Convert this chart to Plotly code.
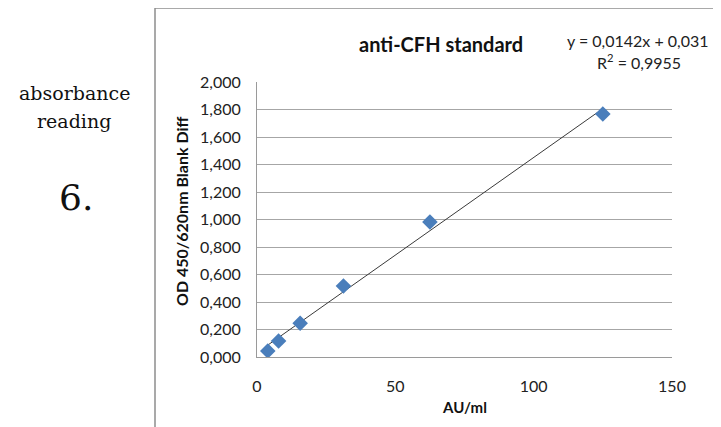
import plotly.graph_objects as go

# Data
au_ml = [3.9, 7.8, 15.6, 31.25, 62.5, 125]
od_diff = [0.044, 0.116, 0.245, 0.516, 0.982, 1.767]
slope = 0.0142
intercept = 0.031
y_tickvals = [0, 0.2, 0.4, 0.6, 0.8, 1.0, 1.2, 1.4, 1.6, 1.8, 2.0]
y_ticktext = ["0,000", "0,200", "0,400", "0,600", "0,800", "1,000",
              "1,200", "1,400", "1,600", "1,800", "2,000"]
x_tickvals = [0, 50, 100, 150]

W, H = 721, 427
OFF = 8  # browser body margin
L, R, T, B = 257, 672, 82, 357  # plot area in screen pixels
pw, ph = R - L, B - T

def px(x):
    return (x - L) / pw

def py(y):
    return (B - y) / ph

font_fam = "Lato, 'Open Sans', sans-serif"

fig = go.Figure()
fit_x = [min(au_ml), max(au_ml)]
fit_y = [slope * v + intercept for v in fit_x]
fig.add_trace(go.Scatter(x=fit_x, y=fit_y, mode="lines",
                         line=dict(color="#3a3a3a", width=1), showlegend=False,
                         hoverinfo="skip"))
fig.add_trace(go.Scatter(x=au_ml, y=od_diff, mode="markers",
                         marker=dict(symbol="diamond", size=12, color="#4a7ebb",
                                     line=dict(width=0)),
                         showlegend=False))

fig.update_layout(
    width=W, height=H,
    margin=dict(l=L - OFF, r=W - (R - OFF), t=T - OFF, b=H - (B - OFF), pad=0),
    paper_bgcolor="white", plot_bgcolor="white",
    font=dict(family=font_fam, size=16, color="#222"),
    xaxis=dict(range=[0, 150], tickvals=x_tickvals, showgrid=False, zeroline=False,
               showline=True, linecolor="#9a9a9a", linewidth=1,
               ticks="outside", ticklen=15, tickcolor="rgba(0,0,0,0)",
               tickfont=dict(size=16, family=font_fam, color="#222")),
    yaxis=dict(range=[0, 2.0], tickvals=y_tickvals, ticktext=y_ticktext,
               showgrid=True, gridcolor="#a6a6a6", gridwidth=1, zeroline=False,
               showline=True, linecolor="#9a9a9a", linewidth=1,
               ticks="outside", ticklen=12, tickcolor="rgba(0,0,0,0)",
               tickfont=dict(size=16, family=font_fam, color="#222")),
    showlegend=False,
)

# chart border lines
fig.add_shape(type="line", xref="paper", yref="paper",
              x0=px(155), x1=px(155), y0=py(8), y1=py(440),
              line=dict(color="#8c8c8c", width=1.5))
fig.add_shape(type="line", xref="paper", yref="paper",
              x0=px(155), x1=px(740), y0=py(8), y1=py(8),
              line=dict(color="#8c8c8c", width=1.5))

ann = []
ann.append(dict(text="anti-CFH standard", x=px(441), y=py(44), xanchor="center",
                yanchor="middle", font=dict(size=20, family=font_fam, weight="bold", color="#111")))
ann.append(dict(text="y = 0,0142x + 0,031", x=px(711), y=py(41), xanchor="right",
                yanchor="middle", font=dict(size=16, family=font_fam, color="#222")))
ann.append(dict(text="R<sup>2</sup> = 0,9955", x=px(683), y=py(62), xanchor="right",
                yanchor="middle", font=dict(size=16, family=font_fam, color="#222")))
ann.append(dict(text="OD 450/620nm Blank Diff", x=px(181), y=py(212), xanchor="center",
                yanchor="middle", textangle=-90,
                font=dict(size=16, family=font_fam, weight="bold", color="#111")))
ann.append(dict(text="AU/ml", x=px(464), y=py(407), xanchor="center",
                yanchor="middle", font=dict(size=15, family=font_fam, weight="bold", color="#111")))
ann.append(dict(text="absorbance", x=px(74), y=py(93), xanchor="center",
                yanchor="middle", font=dict(size=19, family="DejaVu Serif", color="#111")))
ann.append(dict(text="reading", x=px(74), y=py(121), xanchor="center",
                yanchor="middle", font=dict(size=19, family="DejaVu Serif", color="#111")))
ann.append(dict(text="6.", x=px(76), y=py(197), xanchor="center",
                yanchor="middle", font=dict(size=36, family="DejaVu Serif", color="#111")))
for a in ann:
    a.update(xref="paper", yref="paper", showarrow=False)
    fig.add_annotation(**a)

fig.write_html("out.html")
